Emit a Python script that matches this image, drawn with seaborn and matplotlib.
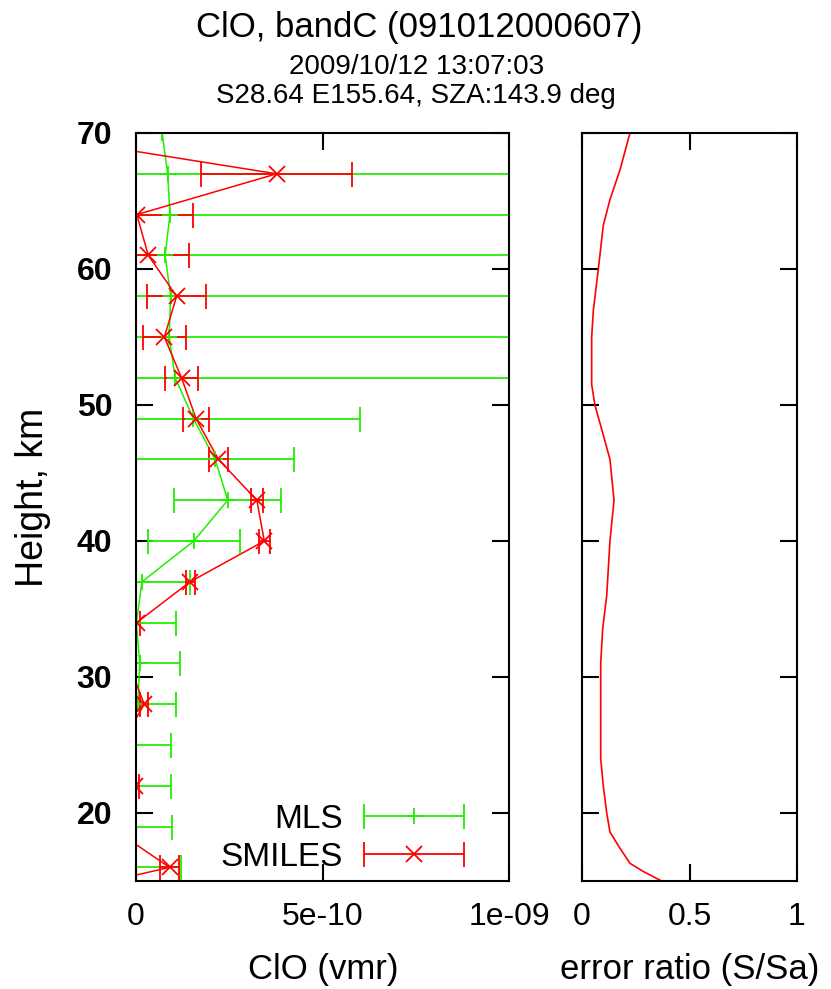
import numpy as np
import pandas as pd
import matplotlib
matplotlib.use("Agg")
import matplotlib.pyplot as plt
from matplotlib.container import ErrorbarContainer
from matplotlib.legend_handler import HandlerErrorbar
import seaborn as sns

# ---------------- data ----------------
heights = [70, 67, 64, 61, 58, 55, 52, 49, 46, 43, 40, 37, 34, 31, 28, 25, 22, 19, 16, 13]
smiles = [-3.1, 3.77, 0.02, 0.33, 1.09, 0.76, 1.22, 1.61, 2.21, 3.24, 3.44, 1.45, 0.02, -0.2, 0.22,
          -0.4, -0.02, -0.7, 0.9, -3.9]
smiles_err = [2.0, 2.02, 1.5, 1.08, 0.8, 0.57, 0.44, 0.35, 0.26, 0.17, 0.14, 0.12, 0.1, 0.1, 0.1,
              0.1, 0.1, 0.15, 0.25, 0.4]

mls_heights = [73, 70, 67, 64, 61, 58, 55, 52, 49, 46, 43, 40, 37, 34, 31, 28, 25, 22, 19, 16]
mls = [0.65, 0.7, 0.85, 0.91, 0.78, 0.93, 0.89, 1.05, 1.54, 2.12, 2.46, 1.55, 0.16, 0.01, 0.1, 0.05,
       -0.2, -0.3, -0.3, -0.2]
mls_err = [15.0, 15.0, 15.0, 15.0, 15.0, 15.0, 15.0, 15.0, 4.46, 2.12, 1.43, 1.24, 1.3, 1.06, 1.08,
           1.02, 1.13, 1.23, 1.27, 1.4]
scale = 1e-10

ratio_h = [70, 67.3, 65.1, 63.2, 60, 57, 55, 51.5, 50, 47.8, 46, 43, 40, 36, 33.5, 31, 24, 22, 20,
           18.6, 17.4, 16.3, 15.7, 15]
ratio = [0.223, 0.177, 0.130, 0.099, 0.076, 0.053, 0.045, 0.045, 0.060, 0.099, 0.130, 0.149, 0.130,
         0.115, 0.096, 0.087, 0.087, 0.099, 0.115, 0.130, 0.177, 0.223, 0.285, 0.37]

title = "ClO, bandC (091012000607)"
sub1 = "2009/10/12 13:07:03"
sub2 = "S28.64 E155.64, SZA:143.9 deg"

RED = "#ff0000"
GREEN = "#22ee00"

sns.set_theme(style="white")
plt.rcParams["font.family"] = ["Liberation Sans", "DejaVu Sans"]
plt.rcParams["text.color"] = "black"

fig = plt.figure(figsize=(8.31, 9.89), dpi=100)
ax = fig.add_axes([136 / 831, 1 - 881 / 989, (509 - 136) / 831, (881 - 133) / 989])
ax2 = fig.add_axes([582 / 831, 1 - 881 / 989, (797 - 582) / 831, (881 - 133) / 989])

df_s = pd.DataFrame({"h": heights, "v": np.array(smiles) * scale, "e": np.array(smiles_err) * scale})
df_m = pd.DataFrame({"h": mls_heights, "v": np.array(mls) * scale, "e": np.array(mls_err) * scale})

# connecting lines
sns.lineplot(data=df_m, x="v", y="h", sort=False, estimator=None, color=GREEN, lw=1.1, ax=ax,
             legend=False)
sns.lineplot(data=df_s, x="v", y="h", sort=False, estimator=None, color=RED, lw=1.1, ax=ax,
             legend=False)

# error bars + markers
ax.errorbar(df_m["v"], df_m["h"], xerr=df_m["e"], fmt="+", color=GREEN, ecolor=GREEN,
            elinewidth=1.3, capsize=9, capthick=1.3, markersize=12, mew=1.3, label="MLS")
ax.errorbar(df_s["v"], df_s["h"], xerr=df_s["e"], fmt="x", color=RED, ecolor=RED,
            elinewidth=1.3, capsize=9, capthick=1.3, markersize=11, mew=1.3, label="SMILES")

ax.set_xlim(0, 1e-9)
ax.set_ylim(15, 70)
ax.set_xticks([0, 5e-10, 1e-9])
ax.set_xticklabels(["0", "5e-10", "1e-09"])
ax.set_yticks([20, 30, 40, 50, 60, 70])
ax.set_yticklabels(["20", "30", "40", "50", "60", "70"], fontweight="bold")

# right panel
df_r = pd.DataFrame({"h": ratio_h, "r": ratio})
sns.lineplot(data=df_r, x="r", y="h", sort=False, estimator=None, color=RED, lw=1.2, ax=ax2,
             legend=False)
ax2.set_xlim(0, 1)
ax2.set_ylim(15, 70)
ax2.set_xticks([0, 0.5, 1])
ax2.set_xticklabels(["0", "0.5", "1"])
ax2.set_yticks([20, 30, 40, 50, 60, 70])
ax2.set_yticklabels([])

for a in (ax, ax2):
    for s in a.spines.values():
        s.set_visible(True)
        s.set_color("black")
        s.set_linewidth(1.5)
    a.tick_params(direction="in", length=12, width=1.5, top=True, right=True, bottom=True,
                  left=True, colors="black", labelcolor="black")
    a.tick_params(axis="x", labelsize=23, pad=15)
    a.tick_params(axis="y", labelsize=23, pad=17)
    a.set_xlabel("")
    a.set_ylabel("")
    a.grid(False)
    a.set_facecolor("white")

leg = ax.legend(loc="lower right", bbox_to_anchor=(1.0, -0.048), frameon=False, markerfirst=False,
                fontsize=24, handlelength=3.06, labelspacing=0.22, handletextpad=0.6,
                borderaxespad=0.92,
                handler_map={ErrorbarContainer: HandlerErrorbar(xerr_size=1.5)})
for t in leg.get_texts():
    t.set_color("black")

fig.text(0.504, 1 - 28 / 989, title, ha="center", va="center", fontsize=25, color="black")
fig.text(0.501, 1 - 67 / 989, sub1, ha="center", va="center", fontsize=20, color="black")
fig.text(0.501, 1 - 96 / 989, sub2, ha="center", va="center", fontsize=20, color="black")

fig.text(33 / 831, 1 - 497 / 989, "Height, km", rotation=90, ha="center", va="center",
         fontsize=27, color="black")
fig.text(323 / 831, 1 - 969 / 989, "ClO (vmr)", ha="center", va="center", fontsize=25,
         color="black")
fig.text(690 / 831, 1 - 969 / 989, "error ratio (S/Sa)", ha="center", va="center", fontsize=25,
         color="black")

fig.savefig("out.png", dpi=100)
